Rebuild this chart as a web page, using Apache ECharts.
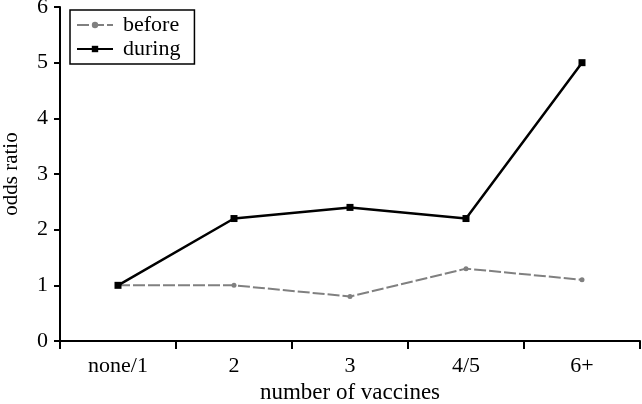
<!DOCTYPE html>
<html>
<head>
<meta charset="utf-8">
<script src="https://cdn.jsdelivr.net/npm/echarts@6/dist/echarts.min.js"></script>
<style>
  html, body { margin: 0; padding: 0; background: #fff; }
  #chart { width: 642px; height: 404px; }
</style>
</head>
<body>
<div id="chart"></div>
<script>
const categories = ['none/1', '2', '3', '4/5', '6+']
const beforeValues = [1.0, 1.0, 0.8, 1.3, 1.1]
const duringValues = [1.0, 2.2, 2.4, 2.2, 5.0]
const yTicks = [0, 1, 2, 3, 4, 5, 6]

const font = 'Liberation Serif'
const chart = echarts.init(document.getElementById('chart'))
chart.setOption({
  animation: false,
  backgroundColor: '#fff',
  textStyle: { fontFamily: font },
  grid: { left: 60, right: 2, top: 7, bottom: 63, outerBoundsMode: 'none' },
  legend: {
    left: 70,
    top: 10,
    orient: 'vertical',
    itemWidth: 36,
    itemHeight: 8,
    itemGap: 2,
    padding: [4, 14, 4, 6],
    borderColor: '#000',
    borderWidth: 1.5,
    textStyle: { fontFamily: font, fontSize: 22, color: '#000', padding: [0, 0, 0, 5] },
    data: ['before', 'during']
  },
  xAxis: {
    type: 'category',
    data: categories,
    name: 'number of vaccines',
    nameLocation: 'middle',
    nameGap: 40,
    nameTextStyle: { fontFamily: font, fontSize: 23, color: '#000' },
    axisLine: { lineStyle: { color: '#000', width: 2 } },
    axisTick: { show: true, inside: false, length: 8, lineStyle: { color: '#000', width: 2 } },
    axisLabel: { margin: 14, fontFamily: font, fontSize: 22, color: '#000' },
    splitLine: { show: false }
  },
  yAxis: {
    type: 'value',
    min: yTicks[0],
    max: yTicks[yTicks.length - 1],
    interval: 1,
    name: 'odds ratio',
    nameLocation: 'middle',
    nameGap: 38,
    nameTextStyle: { fontFamily: font, fontSize: 21, color: '#000' },
    axisLine: { show: true, lineStyle: { color: '#000', width: 2 } },
    axisTick: { show: true, length: 6, lineStyle: { color: '#000', width: 2 } },
    axisLabel: { margin: 12, fontFamily: font, fontSize: 22, color: '#000' },
    splitLine: { show: false }
  },
  series: [
    {
      name: 'before',
      type: 'line',
      data: beforeValues,
      symbol: 'circle',
      symbolSize: 5,
      itemStyle: { color: '#808080' },
      lineStyle: { color: '#808080', width: 2, type: [12, 3] },
      z: 2
    },
    {
      name: 'during',
      type: 'line',
      data: duringValues,
      symbol: 'rect',
      symbolSize: 7,
      itemStyle: { color: '#000' },
      lineStyle: { color: '#000', width: 2.5 },
      z: 3
    }
  ]
})
</script>
</body>
</html>
